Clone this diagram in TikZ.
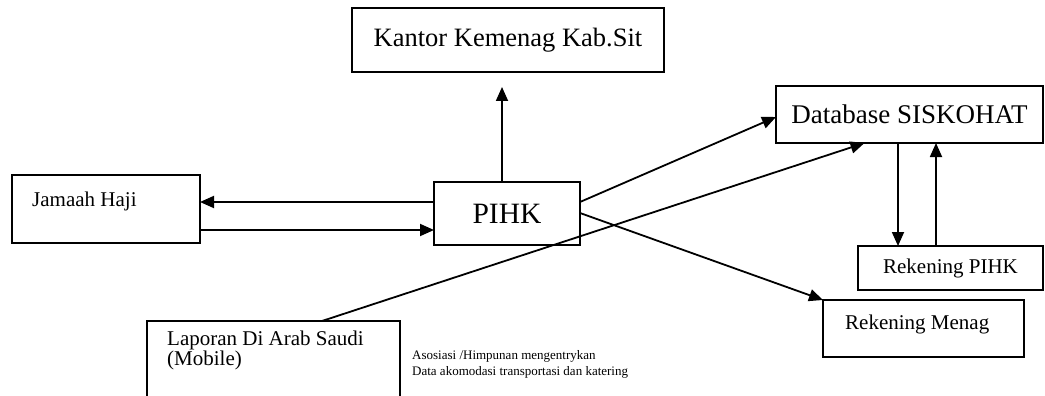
\documentclass[tikz,border=0pt]{standalone}
\usepackage{fontspec}
\setmainfont{Liberation Serif}
\usetikzlibrary{arrows.meta, calc, positioning}

\begin{document}
\begin{tikzpicture}[x=1pt, y=-1pt,
    kotak/.style={draw, line width=1.8pt, inner sep=0pt, outer sep=0pt},
    panah/.style={line width=1.8pt, -{Triangle[length=14pt, width=12pt]}},
    teks/.style={inner sep=0pt, anchor=base west}]
    % ==========================================
    % AREA GAMBAR
    % ==========================================
    \clip (0,0) rectangle (1045,396);

    % ==========================================
    % KOTAK-KOTAK UTAMA
    % ==========================================
    \node [kotak, minimum width=312pt, minimum height=64pt,
           font=\fontsize{26.5}{30}\selectfont] (kantor) at (508,40) {Kantor Kemenag Kab.Sit};
    \node [kotak, minimum width=146pt, minimum height=63pt,
           font=\fontsize{29.5}{33}\selectfont] (pihk) at (507,213.5) {PIHK};
    \node [kotak, minimum width=188pt, minimum height=68pt] (jamaah) at (106,209) {};
    \node [kotak, minimum width=267pt, minimum height=57pt,
           font=\fontsize{27}{31}\selectfont] (db) at (909.5,114.5) {Database SISKOHAT};
    \node [kotak, minimum width=185pt, minimum height=44pt,
           font=\fontsize{21}{24}\selectfont] (rekpihk) at (950.5,268) {Rekening PIHK};
    \node [kotak, minimum width=201pt, minimum height=57pt] (rekmenag) at (923.5,328.5) {};
    \node [kotak, minimum width=253pt, minimum height=80pt] (laporan) at (273.5,361) {};

    % Teks di dalam kotak (rata kiri atas)
    \node [teks, font=\fontsize{21}{24}\selectfont] (tjamaah)
        at ($(jamaah.north west)+(20,31)$) {Jamaah Haji};
    \node [teks, font=\fontsize{21}{24}\selectfont] (tmenag)
        at ($(rekmenag.north west)+(22,29)$) {Rekening Menag};
    \node [teks, font=\fontsize{21}{19}\selectfont, align=left, anchor=north west] (tlaporan)
        at ($(laporan.north west)+(20,10)$) {Laporan Di Arab Saudi\\(Mobile)};

    % Keterangan asosiasi
    \node [teks, font=\fontsize{13}{16}\selectfont, align=left] (asosiasi)
        at ($(laporan.north east)+(12,54)$)
        {Asosiasi /Himpunan mengentrykan\\Data akomodasi transportasi dan katering};

    % ==========================================
    % PANAH
    % ==========================================
    % PIHK <-> Jamaah Haji
    \draw [panah] ($(pihk.west)+(0,-11.5)$) coordinate (p1) -- (p1 -| jamaah.east);
    \draw [panah] ($(jamaah.east)+(0,21)$) coordinate (p2) -- (p2 -| pihk.west);

    % PIHK -> Kantor Kemenag
    \draw [panah, shorten >=15pt] ($(pihk.north)+(-5,0)$) coordinate (p3) -- (p3 |- kantor.south);

    % PIHK -> Database dan Rekening Menag
    \draw [panah] ($(pihk.east)+(0,-11.5)$) -- ($(db.west)+(0,2.5)$);
    \draw [panah] ($(pihk.east)+(0,-0.5)$) -- (rekmenag.north west);

    % Laporan -> Database
    \draw [panah] ($(laporan.north)+(48.5,0)$) -- ($(db.south)+(-45,0)$);

    % Database <-> Rekening PIHK
    \draw [panah] ($(rekpihk.north)+(-52.5,0)$) coordinate (p4) ++(0,0) (p4 |- db.south) -- (p4);
    \draw [panah] ($(rekpihk.north)+(-14.5,0)$) coordinate (p5) -- (p5 |- db.south);

\end{tikzpicture}
\end{document}
